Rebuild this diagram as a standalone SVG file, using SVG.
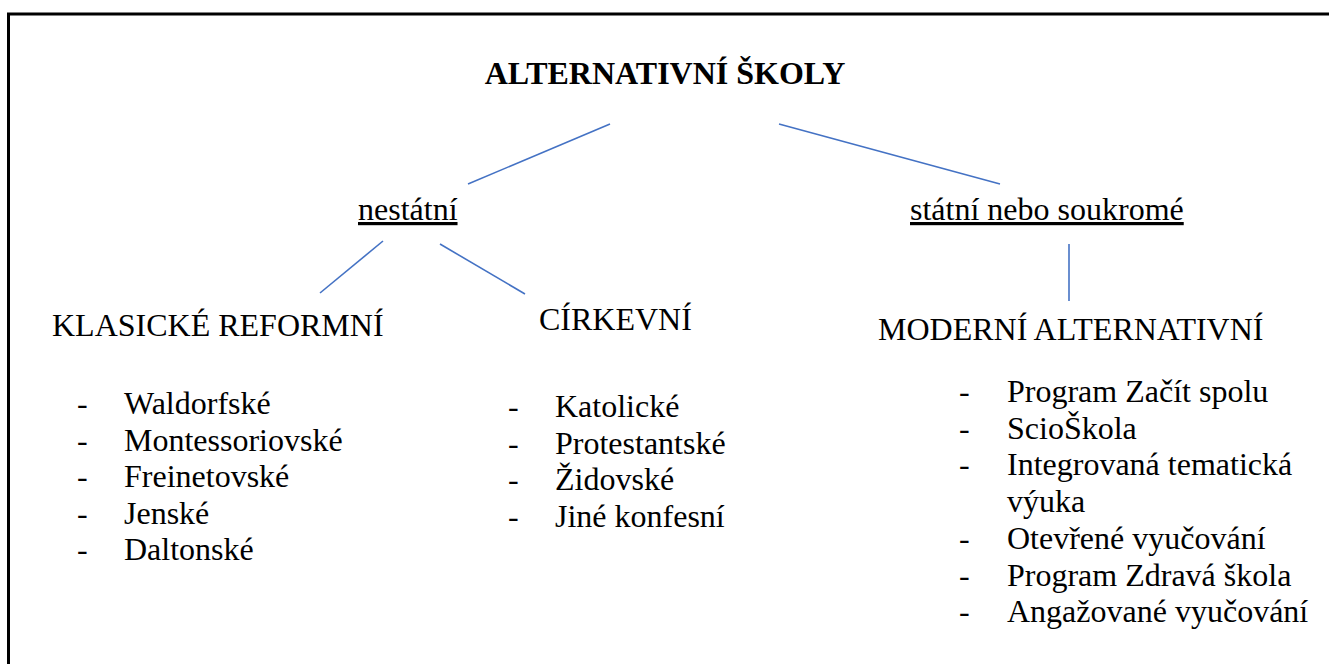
<svg xmlns="http://www.w3.org/2000/svg" width="1329" height="664" viewBox="0 0 1329 664">
<style>
text{font-family:'Liberation Serif','Times New Roman',Times,'DejaVu Serif',serif;font-size:32px;fill:#000}
.title{font-weight:bold}
.u{text-decoration:underline}
.c line{stroke:#4472C4;stroke-width:1.6}
</style>
<rect x="0" y="0" width="1329" height="664" fill="#fff"/>
<rect x="8.5" y="14" width="1400" height="700" fill="none" stroke="#000" stroke-width="3"/>
<g class="c" id="connectors">
<line x1="610" y1="124" x2="468" y2="184"/>
<line x1="779" y1="124" x2="1000" y2="184"/>
<line x1="383" y1="241" x2="320" y2="293"/>
<line x1="440" y1="244" x2="525" y2="294"/>
<line x1="1069" y1="244" x2="1069" y2="301"/>
</g>
<g id="root"><text class="title" x="665" y="84" text-anchor="middle" font-family="Liberation Serif, serif">ALTERNATIVNÍ ŠKOLY</text></g>
<g id="nestatni"><text class="u" x="358" y="220">nestátní</text></g>
<g id="statni"><text class="u" x="910" y="220">státní nebo soukromé</text></g>
<g id="klasicke">
<text x="52" y="336">KLASICKÉ REFORMNÍ</text>
<text x="77" y="414">-</text><text x="124" y="414">Waldorfské</text>
<text x="77" y="450.5">-</text><text x="124" y="450.5">Montessoriovské</text>
<text x="77" y="487">-</text><text x="124" y="487">Freinetovské</text>
<text x="77" y="523.5">-</text><text x="124" y="523.5">Jenské</text>
<text x="77" y="560">-</text><text x="124" y="560">Daltonské</text>
</g>
<g id="cirkevni">
<text x="539" y="330">CÍRKEVNÍ</text>
<text x="508" y="417">-</text><text x="555" y="417">Katolické</text>
<text x="508" y="453.5">-</text><text x="555" y="453.5">Protestantské</text>
<text x="508" y="490">-</text><text x="555" y="490">Židovské</text>
<text x="508" y="526.5">-</text><text x="555" y="526.5">Jiné konfesní</text>
</g>
<g id="moderni">
<text x="878" y="340">MODERNÍ ALTERNATIVNÍ</text>
<text x="959" y="402">-</text><text x="1007" y="402">Program Začít spolu</text>
<text x="959" y="438.7">-</text><text x="1007" y="438.7">ScioŠkola</text>
<text x="959" y="475.4">-</text><text x="1007" y="475.4">Integrovaná tematická</text>
<text x="1007" y="512.1">výuka</text>
<text x="959" y="548.8">-</text><text x="1007" y="548.8">Otevřené vyučování</text>
<text x="959" y="585.5">-</text><text x="1007" y="585.5">Program Zdravá škola</text>
<text x="959" y="622.2">-</text><text x="1007" y="622.2">Angažované vyučování</text>
</g>
</svg>
